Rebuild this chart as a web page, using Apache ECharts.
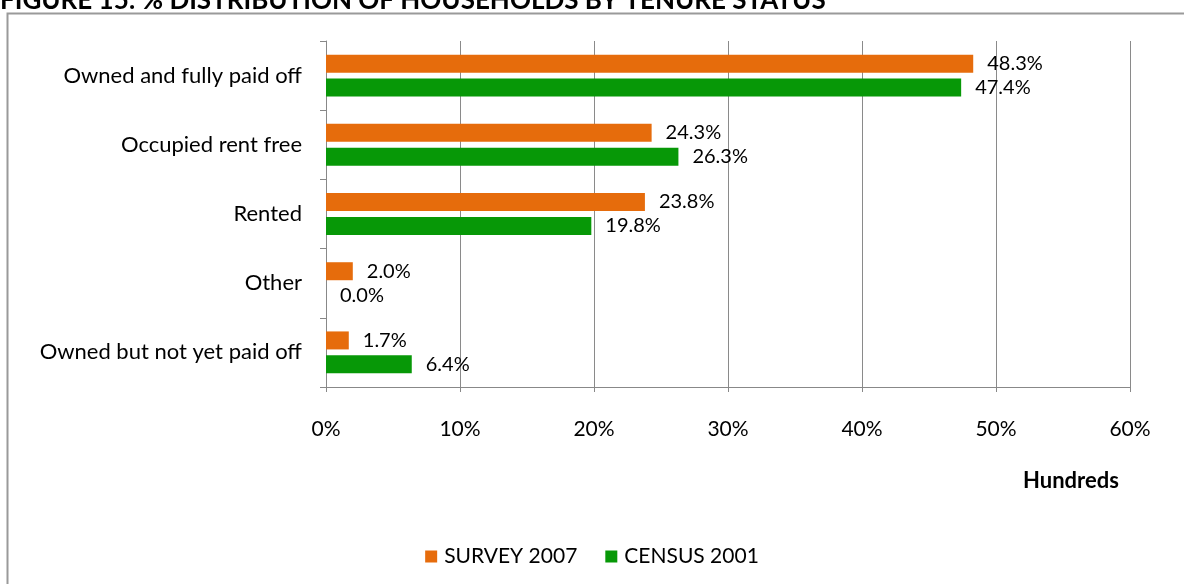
<!DOCTYPE html>
<html>
<head>
<meta charset="utf-8">
<script src="https://cdn.jsdelivr.net/npm/echarts@6/dist/echarts.min.js"></script>
<style>
  html, body { margin: 0; padding: 0; background: #fff; }
  #chart { width: 1184px; height: 584px; }
</style>
</head>
<body>
<div id="chart"></div>
<script>
// Households by tenure status, share of all households (%)
const categories = [
  'Owned and fully paid off',
  'Occupied rent free',
  'Rented',
  'Other',
  'Owned but not yet paid off'
];
const survey2007 = [48.3, 24.3, 23.8, 2.0, 1.7];
const census2001 = [47.4, 26.3, 19.8, 0.0, 6.4];
const seriesNames = ['SURVEY 2007', 'CENSUS 2001'];
const xTicks = { min: 0, max: 60, interval: 10 };

const FONT = 'Lato, "Open Sans", sans-serif';
const chart = echarts.init(document.getElementById('chart'));

const labelCfg = {
  show: true,
  position: 'right',
  distance: 14,
  color: '#000',
  fontFamily: FONT,
  fontSize: 20,
  formatter: p => p.value.toFixed(1) + '%'
};

chart.setOption({
  animation: false,
  backgroundColor: '#ffffff',
  graphic: [
    {
      type: 'rect',
      shape: { x: 7.5, y: 13.5, width: 1190, height: 600 },
      style: { fill: 'none', stroke: '#9a9a9a', lineWidth: 2 },
      z: -1
    },
    {
      type: 'text',
      left: 0,
      top: -12,
      style: {
        text: 'FIGURE 15: % DISTRIBUTION OF HOUSEHOLDS BY TENURE STATUS',
        fill: '#000',
        font: 'bold 26px ' + FONT
      }
    },
    {
      type: 'text',
      left: 1023,
      top: 470,
      style: {
        text: 'Hundreds',
        fill: '#000',
        font: 'bold 22px ' + FONT
      }
    }
  ],
  legend: {
    data: seriesNames,
    left: 'center',
    top: 541,
    itemWidth: 12,
    itemHeight: 12,
    itemGap: 28,
    icon: 'rect',
    textStyle: { fontFamily: FONT, fontSize: 21, color: '#000', padding: [0, 0, 0, 2] }
  },
  grid: { left: 326, right: 54, top: 41, bottom: 197 },
  xAxis: {
    type: 'value',
    min: xTicks.min,
    max: xTicks.max,
    interval: xTicks.interval,
    axisLine: { show: true, lineStyle: { color: '#888' } },
    axisTick: { show: true, length: 5, lineStyle: { color: '#888' } },
    splitLine: { show: true, lineStyle: { color: '#8a8a8a', width: 1 } },
    axisLabel: {
      margin: 32,
      color: '#000',
      fontFamily: FONT,
      fontSize: 21,
      formatter: v => v + '%'
    }
  },
  yAxis: {
    type: 'category',
    inverse: true,
    data: categories,
    axisLine: { show: true, lineStyle: { color: '#888' } },
    axisTick: { show: true, length: 6, lineStyle: { color: '#888' } },
    axisLabel: {
      margin: 24,
      color: '#000',
      fontFamily: FONT,
      fontSize: 22
    }
  },
  series: [
    {
      name: seriesNames[0],
      type: 'bar',
      data: survey2007,
      barWidth: 18,
      barGap: '33%',
      itemStyle: { color: '#E66C0C' },
      label: labelCfg
    },
    {
      name: seriesNames[1],
      type: 'bar',
      data: census2001,
      barWidth: 18,
      barGap: '33%',
      itemStyle: { color: '#079807' },
      label: labelCfg
    }
  ]
});
</script>
</body>
</html>
